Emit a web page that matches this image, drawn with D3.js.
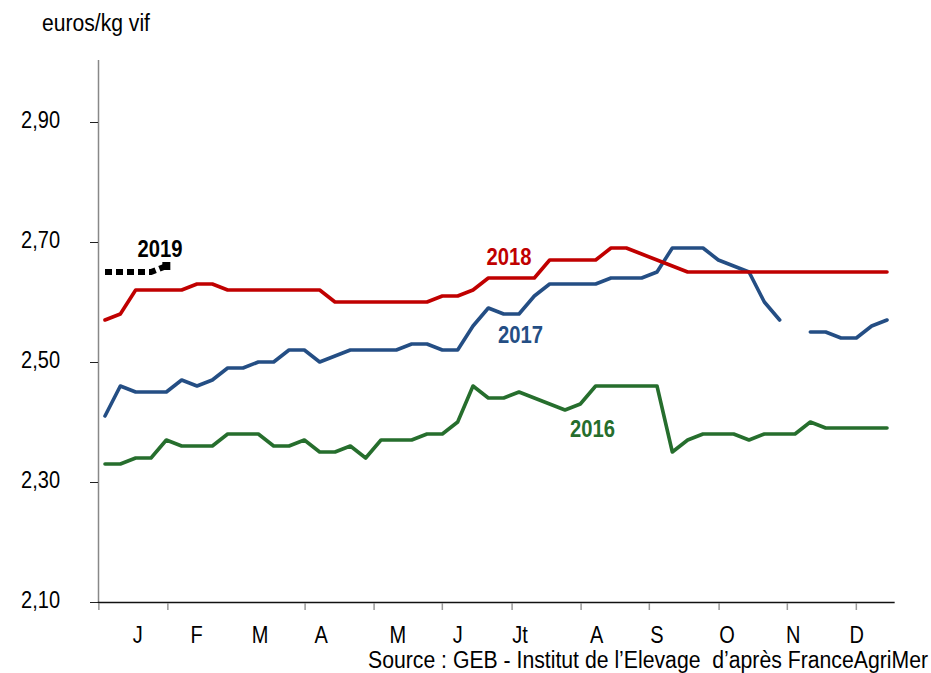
<!DOCTYPE html>
<meta charset="utf-8">
<script type="text/javascript" src="https://cdn.jsdelivr.net/npm/d3@7/dist/d3.min.js"></script>
<style>
body { margin: 0; background: #fff; }
text {
  font-family: Arial, "Liberation Sans", sans-serif;
  fill: #000;
}
path.serie {
  fill: none;
  stroke-width: 3.6px;
  stroke-linejoin: round;
  stroke-linecap: round;
}
.yearlabel {
  font-weight: bold;
}
</style>
<body>
<div id="container1"></div>
<script>
// weekly prices, euros/kg vif (week 1..52)
var weeks = d3.range(1, 53);

var y2016 = [2.33, 2.33, 2.34, 2.34, 2.37, 2.36, 2.36, 2.36, 2.38, 2.38, 2.38, 2.36, 2.36,
             2.37, 2.35, 2.35, 2.36, 2.34, 2.37, 2.37, 2.37, 2.38, 2.38, 2.40, 2.46, 2.44,
             2.44, 2.45, 2.44, 2.43, 2.42, 2.43, 2.46, 2.46, 2.46, 2.46, 2.46, 2.35, 2.37,
             2.38, 2.38, 2.38, 2.37, 2.38, 2.38, 2.38, 2.40, 2.39, 2.39, 2.39, 2.39, 2.39];

var y2017 = [2.41, 2.46, 2.45, 2.45, 2.45, 2.47, 2.46, 2.47, 2.49, 2.49, 2.50, 2.50, 2.52,
             2.52, 2.50, 2.51, 2.52, 2.52, 2.52, 2.52, 2.53, 2.53, 2.52, 2.52, 2.56, 2.59,
             2.58, 2.58, 2.61, 2.63, 2.63, 2.63, 2.63, 2.64, 2.64, 2.64, 2.65, 2.69, 2.69,
             2.69, 2.67, 2.66, 2.65, 2.60, 2.57, null, 2.55, 2.55, 2.54, 2.54, 2.56, 2.57];

var y2018 = [2.57, 2.58, 2.62, 2.62, 2.62, 2.62, 2.63, 2.63, 2.62, 2.62, 2.62, 2.62, 2.62,
             2.62, 2.62, 2.60, 2.60, 2.60, 2.60, 2.60, 2.60, 2.60, 2.61, 2.61, 2.62, 2.64,
             2.64, 2.64, 2.64, 2.67, 2.67, 2.67, 2.67, 2.69, 2.69, 2.68, 2.67, 2.66, 2.65,
             2.65, 2.65, 2.65, 2.65, 2.65, 2.65, 2.65, 2.65, 2.65, 2.65, 2.65, 2.65, 2.65];

var y2019 = [2.65, 2.65, 2.65, 2.65, 2.66];

var yTicks = [2.10, 2.30, 2.50, 2.70, 2.90];
var monthLabels = ["J", "F", "M", "A", "M", "J", "Jt", "A", "S", "O", "N", "D"];
var monthLabelWeeks = [3.13, 6.98, 11.11, 15.09, 20.1, 24.0, 28.07, 33.07, 36.99, 41.56, 45.88, 50.03];
var monthTickWeeks = [0.6, 5.1, 14.05, 18.55, 23.0, 27.55, 32.05, 36.5, 41.05, 45.5, 50.0];

var series = [
  {name: "2016", values: y2016, color: "#266E2D"},
  {name: "2017", values: y2017, color: "#244E84"},
  {name: "2018", values: y2018, color: "#C00000"}
];
// where the year names sit (week, price at baseline)
var yearLabels = [
  {name: "2019", week: 4.59, value: 2.675, color: "#000"},
  {name: "2018", week: 27.35, value: 2.662, color: "#C00000"},
  {name: "2017", week: 28.1, value: 2.532, color: "#244E84"},
  {name: "2016", week: 32.8, value: 2.375, color: "#266E2D"}
];

var width = 931,
    height = 673,
    stretch = 1.15;   // text in the picture is drawn a bit tall

var x = d3.scaleLinear().domain([1, 52]).range([105, 887]);
var y = d3.scaleLinear().domain([2.10, 3.00]).range([602, 62]);

var svg = d3.select("#container1").append("svg")
  .attr("width", width)
  .attr("height", height);

function stretchedText(px, py, txt) {
  return svg.append("g")
    .attr("transform", "translate(" + px + "," + py + ") scale(1," + stretch + ")")
    .append("text")
    .text(txt);
}

// y axis
svg.append("line")
  .attr("x1", 98.5).attr("x2", 98.5)
  .attr("y1", y(3.00) - 2).attr("y2", y(2.10))
  .attr("stroke", "#888").attr("stroke-width", 1.5);

yTicks.forEach(function(t) {
  svg.append("line")
    .attr("x1", 90).attr("x2", 98)
    .attr("y1", Math.round(y(t)) + 0.5).attr("y2", Math.round(y(t)) + 0.5)
    .attr("stroke", "#222").attr("stroke-width", 1);
  stretchedText(60, y(t) + 6, t.toFixed(2).replace(".", ","))
    .attr("text-anchor", "end")
    .style("font-size", "20px");
});

stretchedText(42, 31, "euros/kg vif")
  .style("font-size", "20px")
  .attr("textLength", 108)
  .attr("lengthAdjust", "spacingAndGlyphs");

// x axis
svg.append("line")
  .attr("x1", x(0.6) - 1).attr("x2", x(52.5))
  .attr("y1", 602.5).attr("y2", 602.5)
  .attr("stroke", "#111").attr("stroke-width", 1.5);

monthTickWeeks.forEach(function(w) {
  svg.append("line")
    .attr("x1", x(w)).attr("x2", x(w))
    .attr("y1", 603).attr("y2", 610)
    .attr("stroke", "#999").attr("stroke-width", 1.5);
});

monthLabels.forEach(function(m, i) {
  stretchedText(x(monthLabelWeeks[i]), 643, m)
    .attr("text-anchor", "middle")
    .style("font-size", "20px");
});

stretchedText(368, 668, "Source : GEB - Institut de l\u2019Elevage  d\u2019apr\u00e8s FranceAgriMer")
  .style("font-size", "20px")
  .style("white-space", "pre")
  .attr("textLength", 560)
  .attr("lengthAdjust", "spacingAndGlyphs");

// lines
var line = d3.line()
  .defined(function(d) { return d != null; })
  .x(function(d, i) { return x(weeks[i]); })
  .y(function(d) { return y(d); });

svg.append("g")
  .selectAll("path")
  .data(series)
  .enter()
  .append("path")
  .attr("class", "serie")
  .attr("stroke", function(d) { return d.color; })
  .attr("d", function(d) { return line(d.values); });

// 2019: square-dotted black line with end marker
svg.append("path")
  .attr("fill", "none")
  .attr("stroke", "#000")
  .attr("stroke-width", 6)
  .attr("stroke-dasharray", "7,4")
  .attr("d", line(y2019));

svg.append("rect")
  .attr("x", x(y2019.length) - 4).attr("y", y(y2019[y2019.length - 1]) - 4)
  .attr("width", 8).attr("height", 8)
  .attr("fill", "#000");

yearLabels.forEach(function(d) {
  stretchedText(x(d.week), y(d.value), d.name)
    .attr("class", "yearlabel")
    .attr("text-anchor", "middle")
    .style("font-size", "20px")
    .attr("textLength", 45)
    .attr("lengthAdjust", "spacingAndGlyphs")
    .style("fill", d.color);
});
</script>
</body>
</html>
